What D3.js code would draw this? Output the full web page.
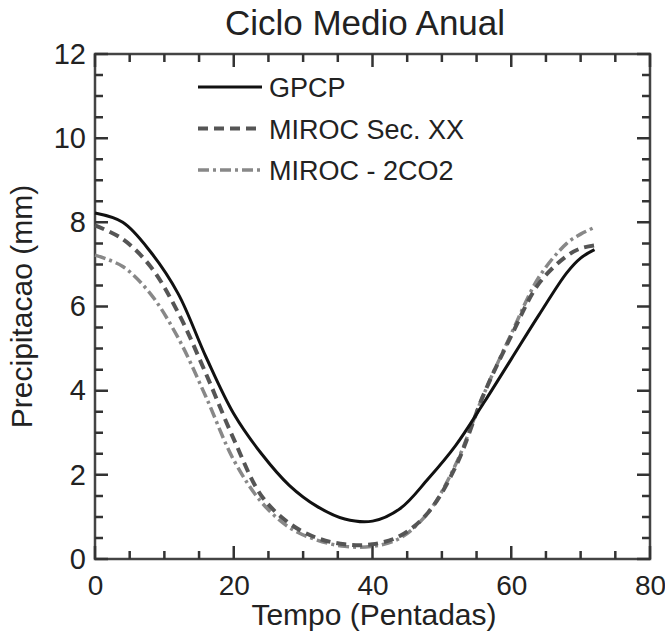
<!DOCTYPE html>
<html>
<head>
<meta charset="utf-8">
<script src="https://cdn.jsdelivr.net/npm/d3@7"></script>
<style>
  body { margin: 0; background: #fff; }
  text { font-family: "Liberation Sans", Arial, sans-serif; fill: #222; }
</style>
</head>
<body>
<div id="chart"></div>
<script>
// Ciclo Medio Anual - annual cycle of precipitation
var pentads = [0, 4, 8, 12, 16, 20, 24, 28, 32, 36, 40, 44, 48, 52, 56, 60, 64, 68, 70, 72];
var gpcp    = [8.22, 8.0, 7.3, 6.3, 4.8, 3.45, 2.5, 1.75, 1.25, 0.95, 0.9, 1.2, 1.9, 2.7, 3.7, 4.75, 5.8, 6.8, 7.15, 7.35];
var mirocXX = [7.93, 7.6, 6.95, 5.85, 4.4, 2.85, 1.5, 0.85, 0.5, 0.35, 0.35, 0.55, 1.1, 2.2, 3.9, 5.3, 6.55, 7.2, 7.38, 7.45];
var miroc2C = [7.22, 6.95, 6.3, 5.25, 3.85, 2.35, 1.35, 0.75, 0.45, 0.3, 0.3, 0.5, 1.1, 2.25, 3.9, 5.35, 6.7, 7.5, 7.72, 7.88];

var seriesNames = ['GPCP', 'MIROC Sec. XX', 'MIROC - 2CO2'];
var xTicks = [0, 20, 40, 60, 80];
var yTicks = [0, 2, 4, 6, 8, 10, 12];
var xMinor = [5, 10, 15, 25, 30, 35, 45, 50, 55, 65, 70, 75];
var yMinor = [0.5, 1, 1.5, 2.5, 3, 3.5, 4.5, 5, 5.5, 6.5, 7, 7.5, 8.5, 9, 9.5, 10.5, 11, 11.5];

var W = 665, H = 634;
var margin = { top: 54, right: 15, bottom: 75, left: 95 };
var iw = W - margin.left - margin.right;
var ih = H - margin.top - margin.bottom;

var svg = d3.select('#chart').append('svg')
  .attr('width', W).attr('height', H);

var x = d3.scaleLinear().domain([0, 80]).range([margin.left, margin.left + iw]);
var y = d3.scaleLinear().domain([0, 12]).range([margin.top + ih, margin.top]);

// frame
var fp = d3.path();
fp.rect(x(0), y(12), x(80) - x(0), y(0) - y(12));
svg.append('path').attr('d', fp.toString())
  .attr('fill', 'none').attr('stroke', '#444').attr('stroke-width', 2.5);

// inward ticks on all four sides
var tp = d3.path();
xTicks.concat(xMinor).forEach(function (v) {
  var len = xTicks.indexOf(v) >= 0 ? 13 : 8;
  tp.moveTo(x(v), y(0)); tp.lineTo(x(v), y(0) - len);
  tp.moveTo(x(v), y(12)); tp.lineTo(x(v), y(12) + len);
});
yTicks.concat(yMinor).forEach(function (v) {
  var len = yTicks.indexOf(v) >= 0 ? 13 : 8;
  tp.moveTo(x(0), y(v)); tp.lineTo(x(0) + len, y(v));
  tp.moveTo(x(80), y(v)); tp.lineTo(x(80) - len, y(v));
});
svg.append('path').attr('d', tp.toString())
  .attr('fill', 'none').attr('stroke', '#333').attr('stroke-width', 2.5);

// tick labels from the axis generators
var xAx = svg.append('g')
  .attr('transform', 'translate(0,' + y(0) + ')')
  .call(d3.axisBottom(x).tickValues(xTicks).tickSize(0).tickPadding(16));
xAx.select('.domain').remove();
xAx.selectAll('text').attr('font-size', 28).attr('dy', '0.71em').style('fill', '#222');

var yAx = svg.append('g')
  .attr('transform', 'translate(' + x(0) + ',0)')
  .call(d3.axisLeft(y).tickValues(yTicks).tickSize(0).tickPadding(9));
yAx.select('.domain').remove();
yAx.selectAll('text').attr('font-size', 29).style('fill', '#222');

// titles
svg.append('text').attr('x', 365).attr('y', 35)
  .attr('text-anchor', 'middle').attr('font-size', 35)
  .text('Ciclo Medio Anual');

svg.append('text').attr('x', 374).attr('y', 625)
  .attr('text-anchor', 'middle').attr('font-size', 30)
  .text('Tempo (Pentadas)');

svg.append('text')
  .attr('transform', 'translate(32,' + y(6) + ') rotate(-90)')
  .attr('text-anchor', 'middle').attr('font-size', 30)
  .text('Precipitacao (mm)');

// lines
var styles = [
  { color: '#111', width: 3, dash: null },
  { color: '#555', width: 4, dash: '10,6' },
  { color: '#888', width: 3.5, dash: '11,4,3,4' }
];
var allSeries = [gpcp, mirocXX, miroc2C];

var line = d3.line()
  .x(function (d) { return x(d[0]); })
  .y(function (d) { return y(d[1]); })
  .curve(d3.curveCatmullRom.alpha(0.5));

[2, 1, 0].forEach(function (i) {
  var pts = pentads.map(function (p, k) { return [p, allSeries[i][k]]; });
  svg.append('path')
    .datum(pts)
    .attr('d', line)
    .attr('fill', 'none')
    .attr('stroke', styles[i].color)
    .attr('stroke-width', styles[i].width)
    .attr('stroke-dasharray', styles[i].dash);
});

// legend
var legend = svg.append('g');
seriesNames.forEach(function (name, i) {
  var ly = 87 + i * 41.5;
  legend.append('line')
    .attr('x1', 198).attr('x2', 262).attr('y1', ly).attr('y2', ly)
    .attr('stroke', styles[i].color)
    .attr('stroke-width', styles[i].width)
    .attr('stroke-dasharray', styles[i].dash);
  legend.append('text')
    .attr('x', 269).attr('y', ly + 10)
    .attr('font-size', 27)
    .text(name);
});
</script>
</body>
</html>
